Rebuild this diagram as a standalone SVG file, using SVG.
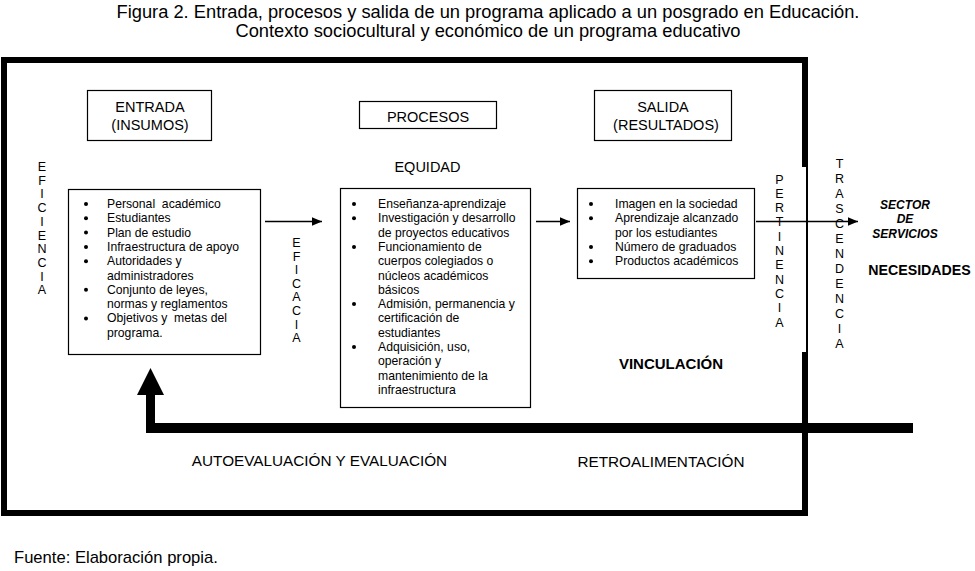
<svg xmlns="http://www.w3.org/2000/svg" width="975" height="571" viewBox="0 0 975 571">
<style>
text{font-family:"Liberation Sans",Arial,sans-serif;fill:#000}
.title{font-size:18.3px;text-anchor:middle}
.hdr{font-size:14.5px;text-anchor:middle}
.body{font-size:12.2px;white-space:pre}
.vert{font-size:12.5px;text-anchor:middle}
.lbl{font-size:15.3px;text-anchor:middle}
.box{fill:#fff;stroke:#000;stroke-width:1.2}
.bul{fill:#000}
.conn{stroke:#000;stroke-width:1.5;fill:none}
</style>
<defs>
<marker id="ah" markerUnits="userSpaceOnUse" markerWidth="11" markerHeight="9" refX="10.5" refY="4.5" orient="auto">
<path d="M0,0 L10.5,4.5 L0,9 z" fill="#000"/>
</marker>
</defs>
<rect width="975" height="571" fill="#fff"/>

<g id="title">
<text class="title" x="488" y="18">Figura 2. Entrada, procesos y salida de un programa aplicado a un posgrado en Educación.</text>
<text class="title" x="488" y="37">Contexto sociocultural y económico de un programa educativo</text>
</g>

<g id="frame" fill="#000">
<rect x="1" y="57" width="807" height="6"/>
<rect x="1" y="57" width="6" height="459"/>
<rect x="802" y="57" width="6" height="110"/>
<rect x="806" y="167" width="2" height="185"/>
<rect x="802" y="352" width="6" height="164"/>
<rect x="1" y="510" width="807" height="6"/>
</g>

<g id="entrada-hdr">
<rect class="box" x="87.5" y="90.5" width="124" height="50"/>
<text class="hdr" x="150" y="112">ENTRADA</text>
<text class="hdr" x="150" y="130">(INSUMOS)</text>
</g>

<g id="procesos-hdr">
<rect class="box" x="359.5" y="101.5" width="137" height="27"/>
<text class="hdr" x="428" y="121.5">PROCESOS</text>
</g>

<g id="salida-hdr">
<rect class="box" x="594.5" y="90.5" width="137" height="50"/>
<text class="hdr" x="663" y="112">SALIDA</text>
<text class="hdr" x="666" y="130">(RESULTADOS)</text>
</g>

<g id="equidad">
<text class="hdr" x="427.5" y="171.5">EQUIDAD</text>
</g>

<g id="entrada-box">
<rect class="box" x="68.5" y="189.5" width="192" height="165"/>
<g class="bul">
<circle cx="86" cy="204" r="2"/>
<circle cx="86" cy="218.3" r="2"/>
<circle cx="86" cy="232.6" r="2"/>
<circle cx="86" cy="246.9" r="2"/>
<circle cx="86" cy="261.2" r="2"/>
<circle cx="86" cy="289.8" r="2"/>
<circle cx="86" cy="318.4" r="2"/>
</g>
<text class="body" x="107" y="208">Personal  académico</text>
<text class="body" x="107" y="222.3">Estudiantes</text>
<text class="body" x="107" y="236.6">Plan de estudio</text>
<text class="body" x="107" y="250.9">Infraestructura de apoyo</text>
<text class="body" x="107" y="265.2">Autoridades y</text>
<text class="body" x="107" y="279.5">administradores</text>
<text class="body" x="107" y="293.8">Conjunto de leyes,</text>
<text class="body" x="107" y="308.1">normas y reglamentos</text>
<text class="body" x="107" y="322.4">Objetivos y  metas del</text>
<text class="body" x="107" y="336.7">programa.</text>
</g>

<g id="procesos-box">
<rect class="box" x="340.5" y="188.5" width="190" height="219"/>
<g class="bul">
<circle cx="354" cy="204" r="2"/>
<circle cx="354" cy="218.3" r="2"/>
<circle cx="354" cy="246.9" r="2"/>
<circle cx="354" cy="304.1" r="2"/>
<circle cx="354" cy="347" r="2"/>
</g>
<text class="body" x="378" y="208">Enseñanza-aprendizaje</text>
<text class="body" x="378" y="222.3">Investigación y desarrollo</text>
<text class="body" x="378" y="236.6">de proyectos educativos</text>
<text class="body" x="378" y="250.9">Funcionamiento de</text>
<text class="body" x="378" y="265.2">cuerpos colegiados o</text>
<text class="body" x="378" y="279.5">núcleos académicos</text>
<text class="body" x="378" y="293.8">básicos</text>
<text class="body" x="378" y="308.1">Admisión, permanencia y</text>
<text class="body" x="378" y="322.4">certificación de</text>
<text class="body" x="378" y="336.7">estudiantes</text>
<text class="body" x="378" y="351">Adquisición, uso,</text>
<text class="body" x="378" y="365.3">operación y</text>
<text class="body" x="378" y="379.6">mantenimiento de la</text>
<text class="body" x="378" y="393.9">infraestructura</text>
</g>

<g id="salida-box">
<rect class="box" x="577.5" y="188.5" width="177" height="90"/>
<g class="bul">
<circle cx="591" cy="204" r="2"/>
<circle cx="591" cy="218.3" r="2"/>
<circle cx="591" cy="246.9" r="2"/>
<circle cx="591" cy="261.2" r="2"/>
</g>
<text class="body" x="615" y="208">Imagen en la sociedad</text>
<text class="body" x="615" y="222.3">Aprendizaje alcanzado</text>
<text class="body" x="615" y="236.6">por los estudiantes</text>
<text class="body" x="615" y="250.9">Número de graduados</text>
<text class="body" x="615" y="265.2">Productos académicos</text>
</g>

<g id="eficiencia">
<text class="vert"><tspan x="42" y="171">E</tspan><tspan x="42" y="184.7">F</tspan><tspan x="42" y="198.4">I</tspan><tspan x="42" y="212.1">C</tspan><tspan x="42" y="225.8">I</tspan><tspan x="42" y="239.5">E</tspan><tspan x="42" y="253.2">N</tspan><tspan x="42" y="266.9">C</tspan><tspan x="42" y="280.6">I</tspan><tspan x="42" y="294.3">A</tspan></text>
</g>

<g id="eficacia">
<text class="vert"><tspan x="296.5" y="247">E</tspan><tspan x="296.5" y="260.6">F</tspan><tspan x="296.5" y="274.2">I</tspan><tspan x="296.5" y="287.8">C</tspan><tspan x="296.5" y="301.4">A</tspan><tspan x="296.5" y="315">C</tspan><tspan x="296.5" y="328.6">I</tspan><tspan x="296.5" y="342.2">A</tspan></text>
</g>

<g id="pertinencia">
<text class="vert"><tspan x="779.5" y="183.5">P</tspan><tspan x="779.5" y="197.8">E</tspan><tspan x="779.5" y="212.1">R</tspan><tspan x="779.5" y="226.4">T</tspan><tspan x="779.5" y="240.7">I</tspan><tspan x="779.5" y="255">N</tspan><tspan x="779.5" y="269.3">E</tspan><tspan x="779.5" y="283.6">N</tspan><tspan x="779.5" y="297.9">C</tspan><tspan x="779.5" y="312.2">I</tspan><tspan x="779.5" y="326.5">A</tspan></text>
</g>

<g id="trascendencia">
<text class="vert"><tspan x="839.5" y="168">T</tspan><tspan x="839.5" y="183">R</tspan><tspan x="839.5" y="198">A</tspan><tspan x="839.5" y="213">S</tspan><tspan x="839.5" y="228">C</tspan><tspan x="839.5" y="243">E</tspan><tspan x="839.5" y="258">N</tspan><tspan x="839.5" y="273">D</tspan><tspan x="839.5" y="288">E</tspan><tspan x="839.5" y="303">N</tspan><tspan x="839.5" y="318">C</tspan><tspan x="839.5" y="333">I</tspan><tspan x="839.5" y="348">A</tspan></text>
</g>

<g id="sector">
<text style="font-size:12px;font-weight:bold;font-style:italic;text-anchor:middle" x="905" y="208.5">SECTOR</text>
<text style="font-size:12px;font-weight:bold;font-style:italic;text-anchor:middle" x="905" y="223">DE</text>
<text style="font-size:12px;font-weight:bold;font-style:italic;text-anchor:middle" x="905" y="237.5">SERVICIOS</text>
</g>

<g id="necesidades">
<text style="font-size:14.2px;font-weight:bold;text-anchor:middle" x="919.5" y="274.5">NECESIDADES</text>
</g>

<g id="vinculacion">
<text style="font-size:15px;font-weight:bold;text-anchor:middle" x="671" y="368.5">VINCULACIÓN</text>
</g>

<g id="connectors">
<line class="conn" x1="265" y1="221.5" x2="322" y2="221.5" marker-end="url(#ah)"/>
<line class="conn" x1="536" y1="221.5" x2="570" y2="221.5" marker-end="url(#ah)"/>
<line class="conn" x1="756" y1="221.5" x2="858" y2="221.5" marker-end="url(#ah)"/>
<path id="feedback" d="M913,423 L155,423 L155,395 L164,395 L150.5,368 L137,395 L146,395 L146,433 L913,433 Z" fill="#000"/>
</g>

<g id="bottom-labels">
<text class="lbl" x="319.5" y="466">AUTOEVALUACIÓN Y EVALUACIÓN</text>
<text class="lbl" x="661" y="466.5">RETROALIMENTACIÓN</text>
</g>

<g id="source">
<text style="font-size:16.6px" x="14" y="563">Fuente: Elaboración propia.</text>
</g>
</svg>
